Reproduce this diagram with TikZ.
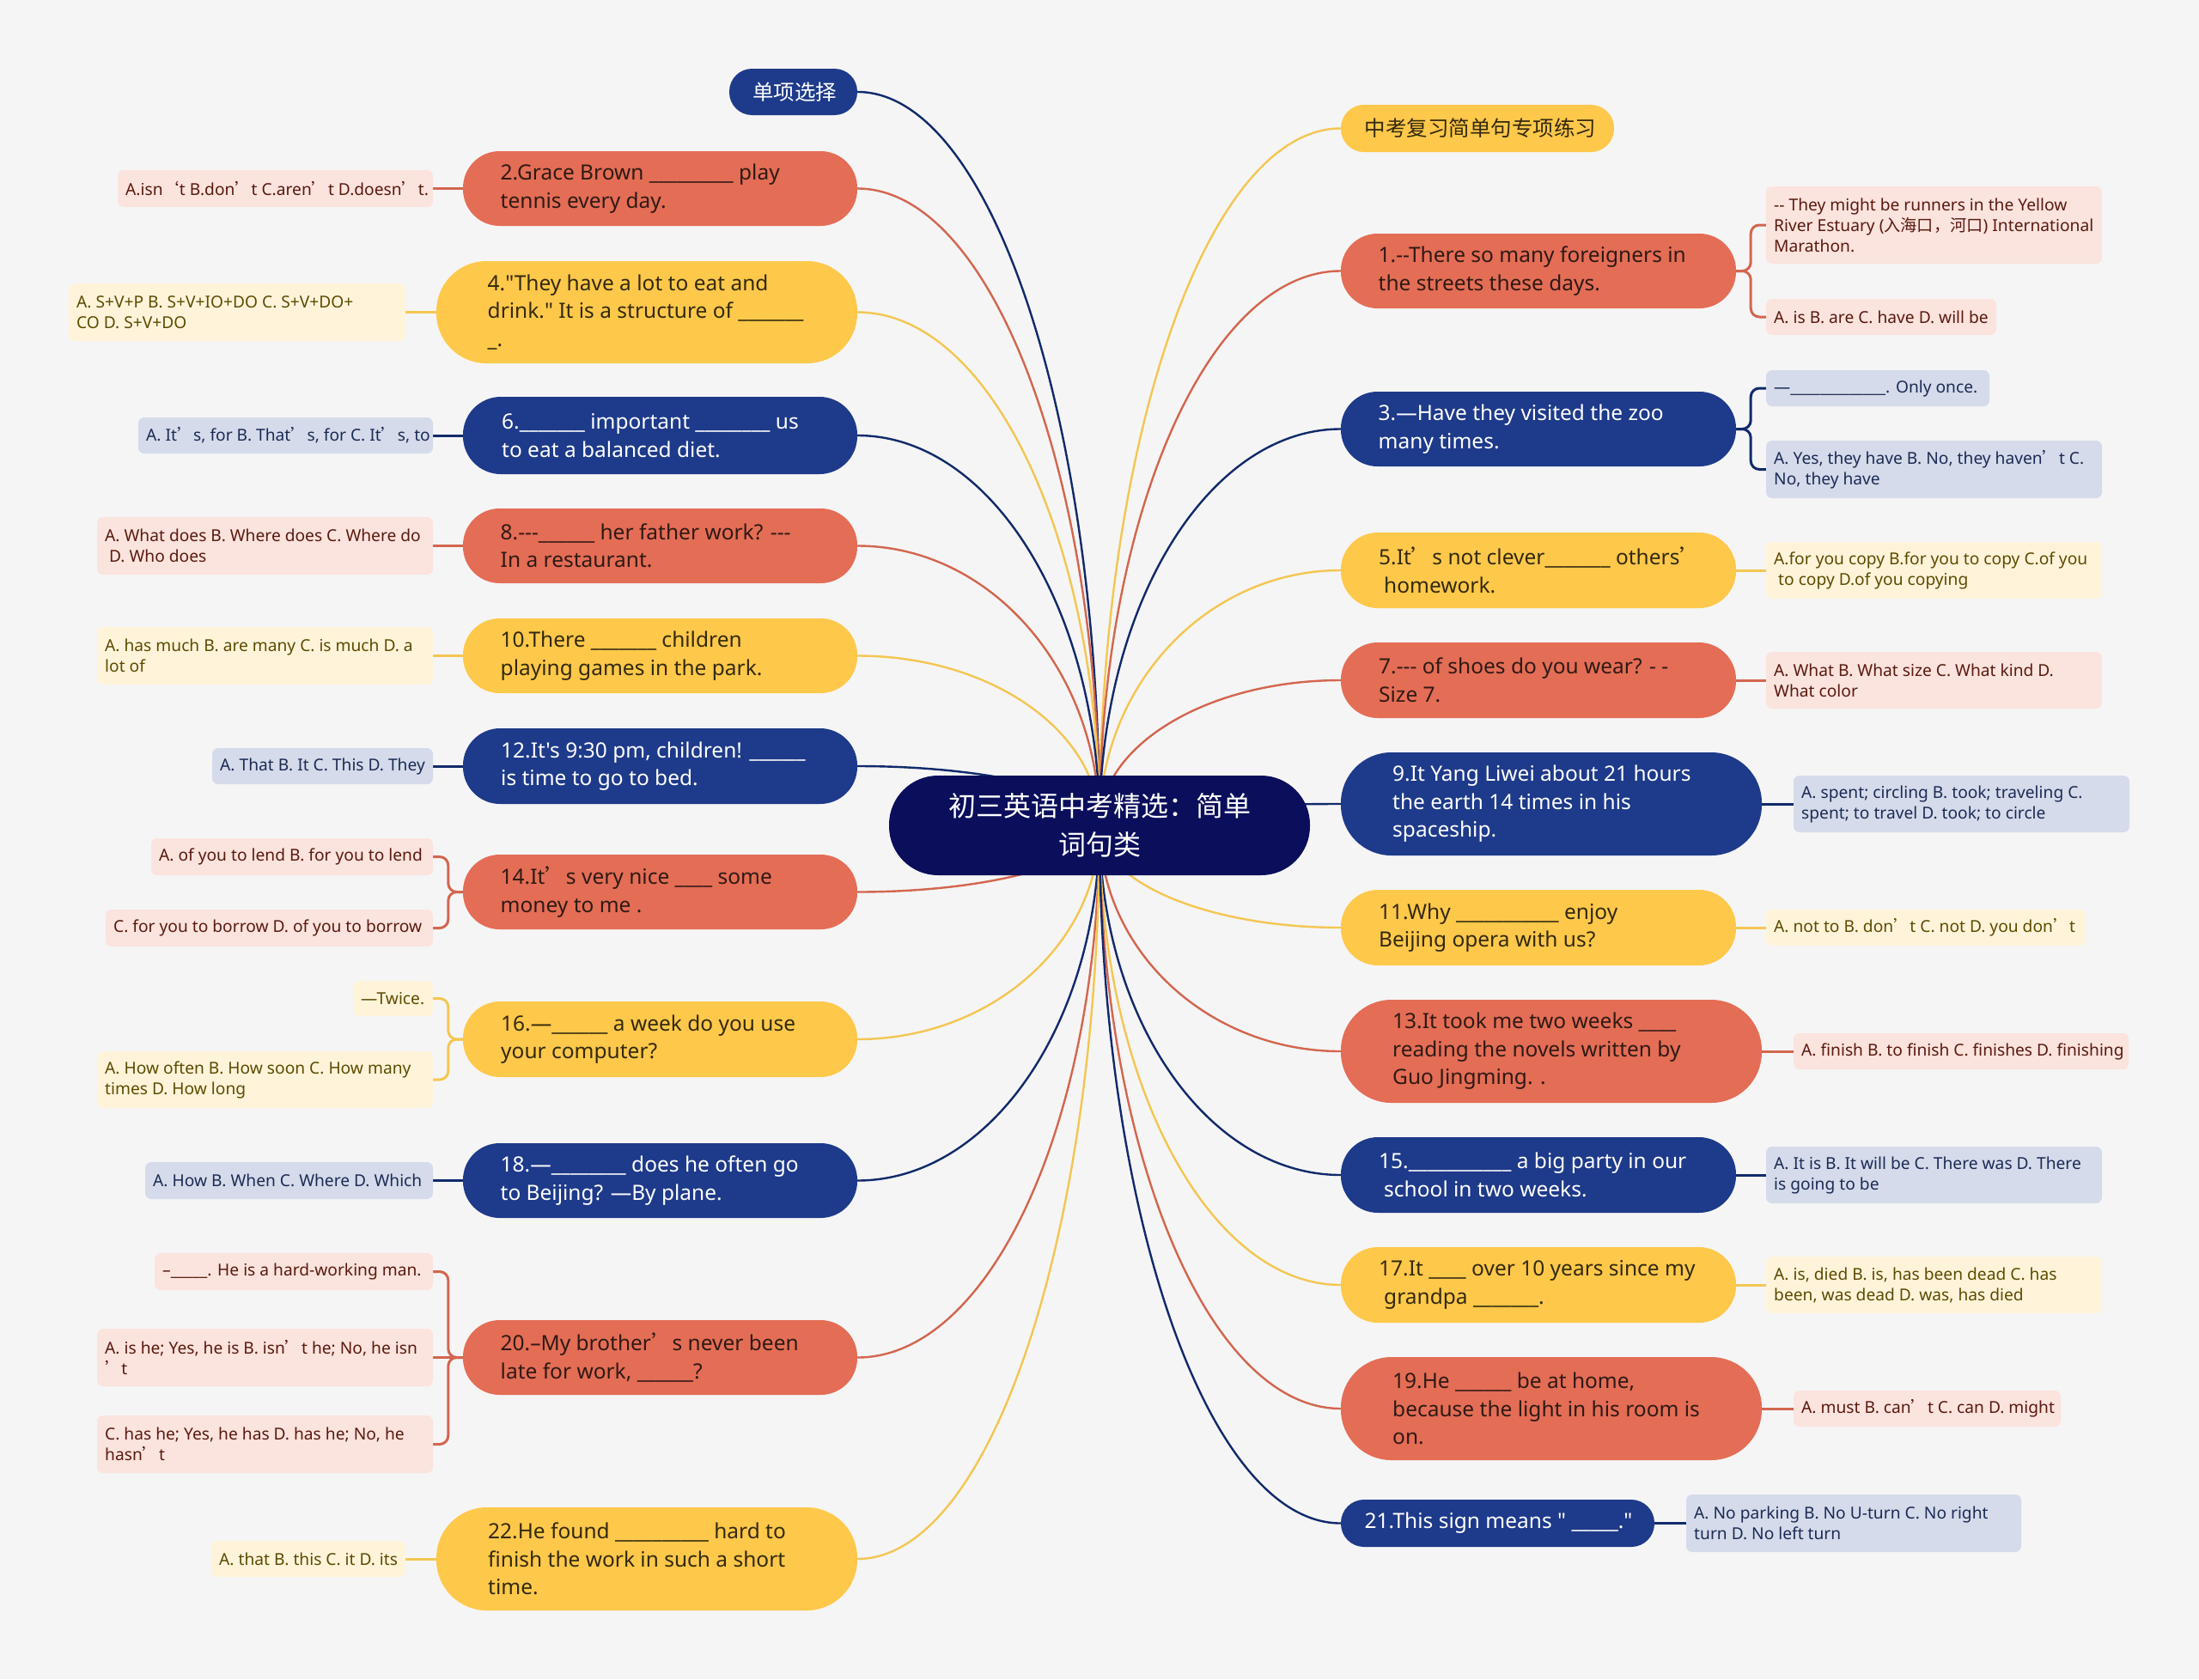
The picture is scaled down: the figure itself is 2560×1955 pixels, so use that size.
\documentclass[tikz,border=0pt]{standalone}
\usepackage{fontspec}
\setmainfont{Noto Sans}[Ligatures=TeXOff]
\newfontfamily\cjk{Noto Sans CJK SC}[Ligatures=TeXOff]
\usetikzlibrary{backgrounds,calc}

\definecolor{bgc}{HTML}{F5F5F5}
\definecolor{cRoot}{HTML}{0A0E5B}
\definecolor{cNavy}{HTML}{1E3A8A}
\definecolor{cRed}{HTML}{E46D56}
\definecolor{cYel}{HTML}{FEC84A}
\definecolor{lNavy}{HTML}{112A6B}
\definecolor{lRed}{HTML}{D3664F}
\definecolor{lYel}{HTML}{F4C652}
\definecolor{fPink}{HTML}{FBE3DE}
\definecolor{fYel}{HTML}{FFF4DA}
\definecolor{fBlue}{HTML}{D5DBEA}
\definecolor{tPink}{HTML}{5B1A0E}
\definecolor{tYel}{HTML}{5E4A00}
\definecolor{tBlue}{HTML}{1C2B55}
\definecolor{tRed}{HTML}{2E1A14}
\definecolor{tYelM}{HTML}{33290E}

\newcommand\mfont{\fontsize{24.5}{32.5}\selectfont}
\newcommand\lfont{\fontsize{19.2}{24}\selectfont}
\newcommand\CJq{{\cjk ’}}
\newcommand\CJo{{\cjk ‘}}
\ExplSyntaxOn
\NewDocumentCommand\blk{m}{\prg_replicate:nn{#1}{\textunderscore}}
\ExplSyntaxOff

% main pill node: fill, text colour, name, x1, y1, x2, y2, text
\newcommand\mnode[8]{%
  \pgfmathsetmacro\BNw{#6-#4}\pgfmathsetmacro\BNh{#7-#5}%
  \pgfmathsetmacro\BNx{(#4+#6)/2}\pgfmathsetmacro\BNy{(#5+#7)/2}%
  \pgfmathsetmacro\BNr{\BNh*0.49}\pgfmathsetmacro\BNl{#4+\BNh/2}%
  \node[fill=#1, rounded corners=\BNr pt, minimum width=\BNw pt, minimum height=\BNh pt, inner sep=0pt] (#3) at (\BNx,\BNy) {};
  \node[text=#2, font=\mfont, align=left, anchor=west, inner sep=0pt] (#3t) at (\BNl,\BNy) {#8};}
% leaf node
\newcommand\lnode[8]{%
  \pgfmathsetmacro\BNw{#6-#4}\pgfmathsetmacro\BNh{#7-#5}%
  \pgfmathsetmacro\BNx{(#4+#6)/2}\pgfmathsetmacro\BNy{(#5+#7)/2}%
  \pgfmathsetmacro\BNl{#4+9}%
  \node[fill=#1, rounded corners=7pt, minimum width=\BNw pt, minimum height=\BNh pt, inner sep=0pt] (#3) at (\BNx,\BNy) {};
  \node[text=#2, font=\lfont, align=left, anchor=west, inner sep=0pt] (#3t) at (\BNl,\BNy) {#8};}

\tikzset{
  mainlink/.style={line width=2.4pt},
  leaflink/.style={line width=3pt},
}

\begin{document}
\begin{tikzpicture}[x=1pt,y=-1pt]
\node[fill=cRoot, rounded corners=57pt, minimum width=490pt, minimum height=116pt, inner sep=0pt, text=white, align=center, font=\cjk\fontsize{32}{45}\selectfont] (root) at (1280,961) {初三英语中考精选：简单\\词句类};

% left main nodes
\mnode{cNavy}{white}{n0}{849}{80}{998}{134}{{\cjk 单项选择}}
\mnode{cRed}{tRed}{n2}{539}{176}{998}{263}{2.Grace Brown \blk{9} play\\tennis every day.}
\mnode{cYel}{tYelM}{n4}{508}{304}{998}{423}{4."They have a lot to eat and\\drink." It is a structure of \blk{7}\\\blk{1}.}
\mnode{cNavy}{white}{n6}{539}{462}{998}{552}{6.\blk{7} important \blk{8} us\\to eat a balanced diet.}
\mnode{cRed}{tRed}{n8}{539}{592}{998}{679}{8.---\blk{6} her father work? ---\\In a restaurant.}
\mnode{cYel}{tYelM}{n10}{539}{720}{998}{807}{10.There \blk{7} children\\playing games in the park.}
\mnode{cNavy}{white}{n12}{539}{848}{998}{936}{12.It's 9:30 pm, children! \blk{6}\\is time to go to bed.}
\mnode{cRed}{tRed}{n14}{539}{995}{998}{1082}{14.It\CJq s very nice \blk{4} some\\money to me .}
\mnode{cYel}{tYelM}{n16}{539}{1166}{998}{1254}{16.—\blk{6} a week do you use\\your computer?}
\mnode{cNavy}{white}{n18}{539}{1331}{998}{1418}{18.—\blk{8} does he often go\\to Beijing? —By plane.}
\mnode{cRed}{tRed}{n20}{539}{1537}{998}{1624}{20.–My brother\CJq s never been\\late for work, \blk{6}?}
\mnode{cYel}{tYelM}{n22}{508}{1755}{998}{1875}{22.He found \blk{10} hard to\\finish the work in such a short\\time.}

% right main nodes
\mnode{cYel}{tYelM}{m0}{1561}{122}{1879}{177}{{\cjk 中考复习简单句专项练习}}
\mnode{cRed}{tRed}{m1}{1561}{272}{2021}{359}{1.--There so many foreigners in\\the streets these days.}
\mnode{cNavy}{white}{m3}{1561}{456}{2021}{543}{3.—Have they visited the zoo\\many times.}
\mnode{cYel}{tYelM}{m5}{1561}{620}{2021}{708}{5.It\CJq s not clever\blk{7} others\CJq\\\hspace*{6pt}homework.}
\mnode{cRed}{tRed}{m7}{1561}{748}{2021}{836}{7.--- of shoes do you wear? - -\\Size 7.}
\mnode{cNavy}{white}{m9}{1561}{876}{2051}{996}{9.It Yang Liwei about 21 hours\\the earth 14 times in his\\spaceship.}
\mnode{cYel}{tYelM}{m11}{1561}{1036}{2021}{1124}{11.Why \blk{11} enjoy\\Beijing opera with us?}
\mnode{cRed}{tRed}{m13}{1561}{1164}{2051}{1284}{13.It took me two weeks \blk{4}\\reading the novels written by\\Guo Jingming. .}
\mnode{cNavy}{white}{m15}{1561}{1324}{2021}{1412}{15.\blk{11} a big party in our\\\hspace*{6pt}school in two weeks.}
\mnode{cYel}{tYelM}{m17}{1561}{1452}{2021}{1540}{17.It \blk{4} over 10 years since my\\\hspace*{6pt}grandpa \blk{7}.}
\mnode{cRed}{tRed}{m19}{1561}{1580}{2051}{1700}{19.He \blk{6} be at home,\\because the light in his room is\\on.}
\mnode{cNavy}{white}{m21}{1561}{1746}{1926}{1801}{21.This sign means " \blk{5}."}

% left leaves
\lnode{fPink}{tPink}{L2}{137}{198}{504}{241}{A.isn\CJo t B.don\CJq t C.aren\CJq t D.doesn\CJq t.}
\lnode{fYel}{tYel}{L4}{80}{330}{472}{397}{A. S+V+P B. S+V+IO+DO C. S+V+DO+\\CO D. S+V+DO}
\lnode{fBlue}{tBlue}{L6}{161}{486}{504}{528}{A. It\CJq s, for B. That\CJq s, for C. It\CJq s, to}
\lnode{fPink}{tPink}{L8}{113}{602}{504}{669}{A. What does B. Where does C. Where do\\\hspace*{5pt}D. Who does}
\lnode{fYel}{tYel}{L10}{113}{730}{504}{797}{A. has much B. are many C. is much D. a\\lot of}
\lnode{fBlue}{tBlue}{L12}{247}{871}{504}{913}{A. That B. It C. This D. They}
\lnode{fPink}{tPink}{L14a}{176}{976}{504}{1019}{A. of you to lend B. for you to lend}
\lnode{fPink}{tPink}{L14b}{123}{1059}{504}{1102}{C. for you to borrow D. of you to borrow}
\lnode{fYel}{tYel}{L16a}{411}{1142}{504}{1183}{—Twice.}
\lnode{fYel}{tYel}{L16b}{113}{1224}{504}{1290}{A. How often B. How soon C. How many\\times D. How long}
\lnode{fBlue}{tBlue}{L18}{169}{1353}{504}{1396}{A. How B. When C. Where D. Which}
\lnode{fPink}{tPink}{L20a}{180}{1459}{504}{1502}{–\blk{5}. He is a hard-working man.}
\lnode{fPink}{tPink}{L20b}{113}{1547}{504}{1614}{A. is he; Yes, he is B. isn\CJq t he; No, he isn\\\CJq t}
\lnode{fPink}{tPink}{L20c}{113}{1648}{504}{1715}{C. has he; Yes, he has D. has he; No, he\\hasn\CJq t}
\lnode{fYel}{tYel}{L22}{246}{1794}{472}{1836}{A. that B. this C. it D. its}

% right leaves
\lnode{fPink}{tPink}{R1a}{2056}{217}{2447}{307}{-- They might be runners in the Yellow\\River Estuary ({\cjk 入海口，河口}) International\\Marathon.}
\lnode{fPink}{tPink}{R1b}{2056}{348}{2324}{390}{A. is B. are C. have D. will be}
\lnode{fBlue}{tBlue}{R3a}{2056}{431}{2316}{473}{—\blk{13}. Only once.}
\lnode{fBlue}{tBlue}{R3b}{2056}{513}{2447}{580}{A. Yes, they have B. No, they haven\CJq t C.\\No, they have}
\lnode{fYel}{tYel}{R5}{2056}{631}{2447}{697}{A.for you copy B.for you to copy C.of you\\\hspace*{5pt}to copy D.of you copying}
\lnode{fPink}{tPink}{R7}{2056}{759}{2447}{825}{A. What B. What size C. What kind D.\\What color}
\lnode{fBlue}{tBlue}{R9}{2088}{903}{2479}{969}{A. spent; circling B. took; traveling C.\\spent; to travel D. took; to circle}
\lnode{fYel}{tYel}{R11}{2056}{1059}{2428}{1101}{A. not to B. don\CJq t C. not D. you don\CJq t}
\lnode{fPink}{tPink}{R13}{2088}{1203}{2478}{1245}{A. finish B. to finish C. finishes D. finishing}
\lnode{fBlue}{tBlue}{R15}{2056}{1335}{2447}{1401}{A. It is B. It will be C. There was D. There\\is going to be}
\lnode{fYel}{tYel}{R17}{2056}{1463}{2447}{1529}{A. is, died B. is, has been dead C. has\\been, was dead D. was, has died}
\lnode{fPink}{tPink}{R19}{2088}{1619}{2399}{1661}{A. must B. can\CJq t C. can D. might}
\lnode{fBlue}{tBlue}{R21}{1963}{1740}{2353}{1807}{A. No parking B. No U-turn C. No right\\turn D. No left turn}

\begin{scope}[on background layer]
\fill[bgc] (0,0) rectangle (2560,1955);
% root to main nodes (left side)
\foreach \n/\c in {n0/lNavy,n2/lRed,n4/lYel,n6/lNavy,n8/lRed,n10/lYel,n12/lNavy,n14/lRed,n16/lYel,n18/lNavy,n20/lRed,n22/lYel}{
  \draw[\c,mainlink] (root.center) .. controls ($(root.center)!0.552!(root.center |- \n.east)$) and ($(\n.east)!0.552!(root.center |- \n.east)$) .. (\n.east);
}
% root to main nodes (right side)
\foreach \n/\c in {m0/lYel,m1/lRed,m3/lNavy,m5/lYel,m7/lRed,m9/lNavy,m11/lYel,m13/lRed,m15/lNavy,m17/lYel,m19/lRed,m21/lNavy}{
  \draw[\c,mainlink] (root.center) .. controls ($(root.center)!0.552!(root.center |- \n.west)$) and ($(\n.west)!0.552!(root.center |- \n.west)$) .. (\n.west);
}
% leaf links, left
\draw[lRed,leaflink] (n2.west) -- (L2.east);
\draw[lYel,leaflink] (n4.west) -- (L4.east);
\draw[lNavy,leaflink] (n6.west) -- (L6.east);
\draw[lRed,leaflink] (n8.west) -- (L8.east);
\draw[lYel,leaflink] (n10.west) -- (L10.east);
\draw[lNavy,leaflink] (n12.west) -- (L12.east);
\draw[lRed,leaflink,rounded corners=10pt] (n14.west) -- ++(-17,0) |- (L14a.east);
\draw[lRed,leaflink,rounded corners=10pt] (n14.west) -- ++(-17,0) |- (L14b.east);
\draw[lYel,leaflink,rounded corners=10pt] (n16.west) -- ++(-17,0) |- (L16a.east);
\draw[lYel,leaflink,rounded corners=10pt] (n16.west) -- ++(-17,0) |- (L16b.east);
\draw[lNavy,leaflink] (n18.west) -- (L18.east);
\draw[lRed,leaflink,rounded corners=10pt] (n20.west) -- ++(-17,0) |- (L20a.east);
\draw[lRed,leaflink] (n20.west) -- (L20b.east);
\draw[lRed,leaflink,rounded corners=10pt] (n20.west) -- ++(-17,0) |- (L20c.east);
\draw[lYel,leaflink] (n22.west) -- (L22.east);
% leaf links, right
\draw[lRed,leaflink,rounded corners=10pt] (m1.east) -- ++(17,0) |- (R1a.west);
\draw[lRed,leaflink,rounded corners=10pt] (m1.east) -- ++(17,0) |- (R1b.west);
\draw[lNavy,leaflink,rounded corners=10pt] (m3.east) -- ++(17,0) |- (R3a.west);
\draw[lNavy,leaflink,rounded corners=10pt] (m3.east) -- ++(17,0) |- (R3b.west);
\draw[lYel,leaflink] (m5.east) -- (R5.west);
\draw[lRed,leaflink] (m7.east) -- (R7.west);
\draw[lNavy,leaflink] (m9.east) -- (R9.west);
\draw[lYel,leaflink] (m11.east) -- (R11.west);
\draw[lRed,leaflink] (m13.east) -- (R13.west);
\draw[lNavy,leaflink] (m15.east) -- (R15.west);
\draw[lYel,leaflink] (m17.east) -- (R17.west);
\draw[lRed,leaflink] (m19.east) -- (R19.west);
\draw[lNavy,leaflink] (m21.east) -- (R21.west);
\end{scope}
\end{tikzpicture}
\end{document}
